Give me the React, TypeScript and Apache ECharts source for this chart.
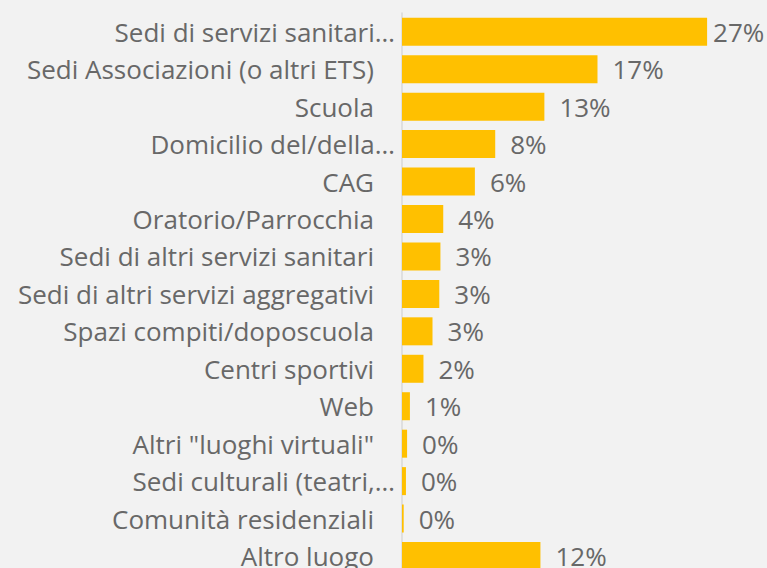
import React, { useEffect, useRef } from "react";
import * as echarts from "echarts";

const categories: string[] = [
  "Sedi di servizi sanitari…",
  "Sedi Associazioni (o altri ETS)",
  "Scuola",
  "Domicilio del/della…",
  "CAG",
  "Oratorio/Parrocchia",
  "Sedi di altri servizi sanitari",
  "Sedi di altri servizi aggregativi",
  "Spazi compiti/doposcuola",
  "Centri sportivi",
  "Web",
  'Altri "luoghi virtuali"',
  "Sedi culturali (teatri,…",
  "Comunità residenziali",
  "Altro luogo",
];

const values: number[] = [27.0, 17.3, 12.6, 8.25, 6.45, 3.65, 3.4, 3.3, 2.7, 1.9, 0.7, 0.45, 0.35, 0.15, 12.25];

const valueLabels: string[] = ["27%", "17%", "13%", "8%", "6%", "4%", "3%", "3%", "3%", "2%", "1%", "0%", "0%", "0%", "12%"];

const FONT = "'Open Sans', 'Noto Sans', sans-serif";

export default function App() {
  const ref = useRef<HTMLDivElement>(null);
  useEffect(() => {
    if (!ref.current) return;
    const chart = echarts.init(ref.current, undefined, { renderer: "svg" });
    chart.setOption({
      animation: false,
      backgroundColor: "#f2f2f2",
      grid: {
        left: 402,
        top: 13,
        height: 561.75,
        right: 26,
        containLabel: false,
        outerBoundsMode: "none",
      },
      xAxis: {
        type: "value",
        min: 0,
        max: 30,
        show: false,
      },
      yAxis: {
        type: "category",
        inverse: true,
        data: categories,
        axisLine: { show: true, lineStyle: { color: "#d9d9d9", width: 1.5 } },
        axisTick: { show: false },
        axisLabel: {
          margin: 7,
          formatter: (v: string) => (v.endsWith("…") ? `{b|${v}}` : `{a|${v}}`),
          rich: {
            a: { fontFamily: FONT, fontSize: 26, color: "#686868", padding: [0, 21, 0, 0] },
            b: { fontFamily: FONT, fontSize: 26, color: "#686868" },
          },
        },
      },
      series: [
        {
          type: "bar",
          data: values.map((v, i) => ({
            value: v,
            label: { distance: i === 0 ? 6 : 15 },
          })),
          barWidth: 28,
          itemStyle: { color: "#ffc000" },
          label: {
            show: true,
            position: "right",
            distance: 15,
            fontFamily: FONT,
            fontSize: 26,
            color: "#686868",
            formatter: (p: any) => valueLabels[p.dataIndex],
          },
        },
      ],
    });
    return () => chart.dispose();
  }, []);
  return (
    <div
      ref={ref}
      style={{ position: "fixed", left: 0, top: 0, width: 767, height: 568 }}
    />
  );
}
